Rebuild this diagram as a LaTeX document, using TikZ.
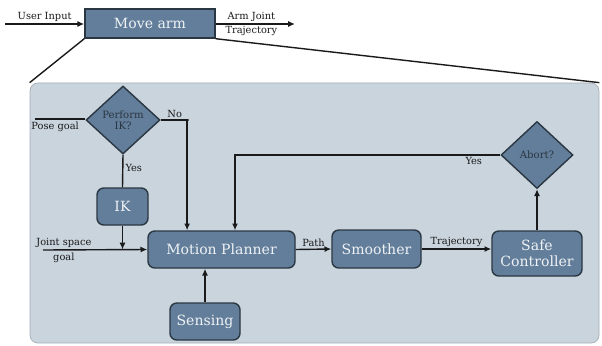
\documentclass[tikz,border=0pt]{standalone}
\usepackage{fontspec}
\setmainfont{DejaVu Serif}
\usepackage{tikz}
\usetikzlibrary{shapes.geometric,arrows.meta}
\definecolor{panelfill}{HTML}{C9D4DD}
\definecolor{paneledge}{HTML}{A4AEB7}
\definecolor{boxfill}{HTML}{637E9A}
\definecolor{boxedge}{HTML}{2A3642}
\definecolor{boxtext}{HTML}{EEF2F5}
\definecolor{linecol}{HTML}{1A1A1A}
\tikzset{
    block/.style={rectangle, rounded corners=0.17cm, draw=boxedge, line width=1pt, fill=boxfill,
        text=boxtext, font=\fontsize{10}{11.5}\selectfont, align=center, inner sep=0mm},
    decision/.style={diamond, draw=boxedge, line width=1pt, fill=boxfill, text=boxedge,
        font=\fontsize{7.2}{8}\selectfont, align=center, inner sep=0mm},
    lbl/.style={font=\fontsize{7}{7.5}\selectfont, text=linecol, inner sep=0.5mm},
    flow/.style={draw=linecol, line width=1pt, -{Latex[length=1.7mm,width=1.5mm]}},
    plain/.style={draw=linecol, line width=1pt}
}

\begin{document}
\begin{tikzpicture}
    \useasboundingbox (0cm, 0cm) rectangle (15.05cm, 8.625cm);

    % top level block
    \node (arm) [block, rounded corners=0, minimum width=3.25cm, minimum height=0.725cm] at (3.75cm, 8.0375cm) {Move arm};
    \coordinate (userin) at (0.125cm, 8.025cm);
    \coordinate (armout) at (7.375cm, 8.025cm);

    \draw[flow] (userin) -- node[lbl, above] {User Input} (arm.west |- userin);
    \draw[flow] (arm.east |- armout) -- (armout)
        node[lbl, above, pos=0.45] {Arm Joint}
        node[lbl, below, pos=0.45] {Trajectory};

    % expanded panel
    \node (panel) [rectangle, rounded corners=0.2cm, draw=paneledge, line width=0.5pt, fill=panelfill,
        minimum width=14.225cm, minimum height=6.5cm, inner sep=0mm] at (7.8625cm, 3.3cm) {};
    \draw[plain] (arm.south west) -- (panel.north west);
    \draw[plain] (arm.south east) -- (panel.north east);

    \node (perform) [decision, minimum width=1.85cm, minimum height=1.7cm] at (3.075cm, 5.625cm) {Perform\\IK?};
    \node (ik) [block, minimum width=1.275cm, minimum height=0.925cm] at (3.0625cm, 3.4625cm) {IK};
    \node (mp) [block, minimum width=3.675cm, minimum height=0.925cm] at (5.5375cm, 2.3875cm) {Motion Planner};
    \node (sensing) [block, minimum width=1.75cm, minimum height=0.925cm] at (5.125cm, 0.5875cm) {Sensing};
    \node (smoother) [block, minimum width=2.225cm, minimum height=0.95cm] at (9.4125cm, 2.4cm) {Smoother};
    \node (safe) [block, minimum width=2.25cm, minimum height=1.125cm] at (13.425cm, 2.2875cm) {Safe\\Controller};
    \node (abort) [decision, minimum width=1.8cm, minimum height=1.675cm] at (13.425cm, 4.75cm) {Abort?};

    \coordinate (posein) at (0.875cm, 5.65cm);
    \coordinate (jointin) at (1.075cm, 2.375cm);

    \draw[plain] (posein) -- node[lbl, below, pos=0.4] {Pose goal} (perform.west |- posein);
    \draw[flow] (perform.east) -- ++(0.7cm, 0) node[lbl, above, midway] {No} -| ([xshift=-0.86cm]mp.north);
    \draw[plain] (perform.south) -- node[lbl, right, pos=0.4] {Yes} (ik.north);
    \draw[flow] (ik.south) -- (ik.south |- mp.west);
    \draw[flow] (jointin) -- (mp.west)
        node[lbl, above, pos=0.2] {Joint space}
        node[lbl, below, pos=0.2] {goal};
    \draw[flow] (sensing.north) -- (sensing.north |- mp.south);
    \draw[flow] (mp.east) -- node[lbl, above] {Path} (smoother.west);
    \draw[flow] (smoother.east) -- node[lbl, above] {Trajectory} (smoother.east -| safe.west);
    \draw[flow] (safe.north) -- (abort.south);
    \draw[flow] (abort.west) -- node[lbl, below, pos=0.1] {Yes} ([xshift=0.3375cm]mp.north |- abort.west) -- ([xshift=0.3375cm]mp.north);
\end{tikzpicture}
\end{document}
